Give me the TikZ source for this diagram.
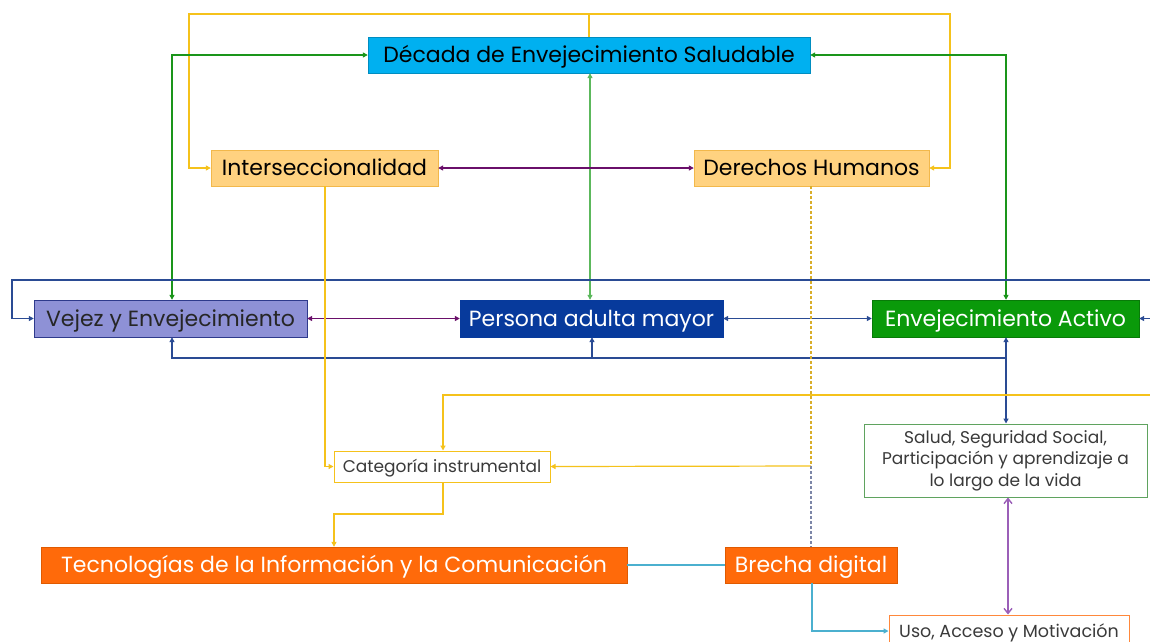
\documentclass[tikz,border=0pt]{standalone}
\usepackage{fontspec}
\setmainfont{Poppins}
\usetikzlibrary{arrows.meta}
\definecolor{cdec}{HTML}{00B0F0}
\definecolor{cpale}{HTML}{FFD280}
\definecolor{cpaleb}{HTML}{F2B84B}
\definecolor{cvej}{HTML}{8E91D6}
\definecolor{cvejb}{HTML}{2E3A8C}
\definecolor{cpers}{HTML}{073A9C}
\definecolor{cact}{HTML}{0A9A0A}
\definecolor{corg}{HTML}{FF6A0A}
\definecolor{corgb}{HTML}{E05A00}
\definecolor{cylw}{HTML}{F5C21B}
\definecolor{cylwd}{HTML}{D9AE2A}
\definecolor{cdgr}{HTML}{1A951A}
\definecolor{clgr}{HTML}{5CB85C}
\definecolor{cpur}{HTML}{6A0F6A}
\definecolor{clpur}{HTML}{9B5FB8}
\definecolor{cblu}{HTML}{2A4B94}
\definecolor{ccyan}{HTML}{4BB0CF}
\definecolor{cgrayb}{HTML}{7C86A8}
\definecolor{ctxt}{HTML}{3A3A3A}
\definecolor{csalb}{HTML}{5FA35F}
\tikzset{mytip/.tip={Triangle[length=5pt,width=5pt]},
  barb/.tip={Straight Barb[length=5pt,width=8pt]}}
\begin{document}
\begin{tikzpicture}[x=1pt,y=-1pt,
  box/.style={rectangle,inner sep=0pt,anchor=center,align=center},
  bigtxt/.style={font=\fontsize{22}{26}\selectfont,text height=15.5pt,text depth=0pt},
  smalltxt/.style={font=\fontsize{17}{21.5}\selectfont},
  ylw/.style={draw=cylw,line width=1.4pt},
  ylwthin/.style={draw=cylw,line width=1.2pt},
  dgr/.style={draw=cdgr,line width=1.5pt},
  lgr/.style={draw=clgr,line width=1.1pt},
  pur/.style={draw=cpur,line width=1.6pt},
  blu/.style={draw=cblu,line width=1.2pt},
  cya/.style={draw=ccyan,line width=1.3pt},
  lpur/.style={draw=clpur,line width=1.4pt}
]
\useasboundingbox (0,0) rectangle (1150,641);
\clip (0,0) rectangle (1150,641);
\fill[white] (0,0) rectangle (1150,641);

% nodes
\node[box,bigtxt,fill=cdec,draw=cdec!80!black,minimum width=442pt,minimum height=36pt,text=black] (dec) at (589,55) {Década de Envejecimiento Saludable};
\node[box,bigtxt,fill=cpale,draw=cpaleb,minimum width=227pt,minimum height=36pt,text=black] (inter) at (324.5,168) {Interseccionalidad};
\node[box,bigtxt,fill=cpale,draw=cpaleb,minimum width=235pt,minimum height=36pt,text=black] (der) at (811.5,168) {Derechos Humanos};
\node[box,bigtxt,fill=cvej,draw=cvejb,minimum width=273pt,minimum height=37pt,text=black!85] (vejez) at (170.5,318.5) {Vejez y Envejecimiento};
\node[box,bigtxt,fill=cpers,draw=cpers,minimum width=263pt,minimum height=37pt,text=white] (pers) at (591.5,318.5) {Persona adulta mayor};
\node[box,bigtxt,fill=cact,draw=cact!80!black,minimum width=267pt,minimum height=37pt,text=white] (act) at (1005.5,318.5) {Envejecimiento Activo};
\node[box,smalltxt,fill=white,draw=csalb,line width=1pt,minimum width=283pt,minimum height=73pt,text=ctxt] (salud) at (1005.5,460.5) {Salud, Seguridad Social,\\Participación y aprendizaje a\\lo largo de la vida};
\node[box,smalltxt,text height=12pt,text depth=0pt,fill=white,draw=cylw,line width=1pt,minimum width=216pt,minimum height=31pt,text=ctxt] (cat) at (442,466.5) {Categoría instrumental};
\node[box,bigtxt,fill=corg,draw=corgb,minimum width=586pt,minimum height=36pt,text=white] (tic) at (334,565) {Tecnologías de la Información y la Comunicación};
\node[box,bigtxt,fill=corg,draw=corgb,minimum width=172pt,minimum height=36pt,text=white] (brecha) at (811,565) {Brecha digital};
\node[box,font=\fontsize{17.5}{21}\selectfont,text height=12.3pt,text depth=0pt,fill=white,draw=corg!80,line width=1pt,minimum width=240pt,minimum height=32pt,text=ctxt] (uso) at (1009,631) {Uso, Acceso y Motivación};

% yellow top tree
\draw[ylw] (dec.north) -- (dec.north |- 0,14);
\draw[ylw,-{mytip}] (dec.north |- 0,14) -- (189,14) |- (inter.west);
\draw[ylw,-{mytip}] (dec.north |- 0,14) -- (950,14) |- (der.east);

% dark green
\draw[dgr,{mytip}-{mytip}] (vejez.north -| 172,0) |- (dec.west);
\draw[dgr,{mytip}-{mytip}] (dec.east) -| (act.north -| 1006,0);

% light green
\draw[lgr,{mytip}-{mytip}] (dec.south -| 590,0) -- (pers.north -| 590,0);

% purple
\draw[pur,{mytip}-{mytip}] (inter.east) -- (der.west);
\draw[pur,{mytip}-{mytip}] (vejez.east) -- (pers.west);

% blue
\draw[blu,{mytip}-{mytip}] (pers.east) -- (act.west);
\draw[blu,{mytip}-{mytip}] (act.east) -- (1165,318.5) -- (1165,280) -- (12,280) |- (vejez.west);
\draw[blu,{mytip}-{mytip}] (vejez.south -| 172,0) -- (172,358) -- (1006,358) -- (act.south -| 1006,0);
\draw[blu,-{mytip}] (592,358) -- (pers.south -| 592,0);
\draw[blu,-{mytip}] (1006,358) -- (salud.north -| 1006,0);

% yellow lower
\draw[ylwthin,-{mytip}] (inter.south -| 325,0) |- (cat.west);
\draw[ylwthin,-{mytip}] (1165,395) -- (443,395) -- (cat.north -| 443,0);
\draw[ylwthin,-{mytip}] (cat.south -| 443,0) -- (443,514) -| (tic.north);
\draw[draw=cylwd,line width=1.2pt,dash pattern=on 3pt off 2pt] (der.south -| 811,0) -- (811,466);
\draw[ylwthin,-{mytip}] (811,466) -- (cat.east);
\draw[draw=cgrayb,line width=1.1pt,dash pattern=on 3pt off 2pt] (811,466) -- (brecha.north -| 811,0);

% cyan
\draw[cya] (tic.east) -- (brecha.west);
\draw[cya,-{mytip}] (brecha.south -| 812,0) |- (uso.west);

% light purple
\draw[lpur,{barb}-{barb}] (salud.south -| 1008,0) -- (uso.north -| 1008,0);
\end{tikzpicture}
\end{document}
